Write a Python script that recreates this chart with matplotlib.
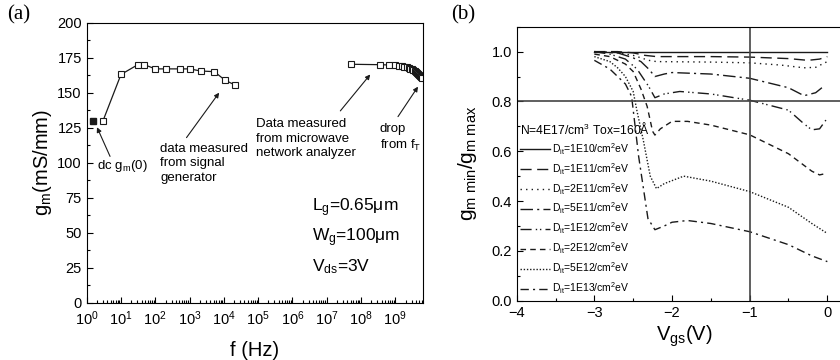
import numpy as np
import matplotlib.pyplot as plt
from matplotlib.ticker import LogLocator, MultipleLocator, NullFormatter

plt.rcParams['font.family'] = ['Liberation Sans', 'DejaVu Sans']
plt.rcParams['mathtext.fontset'] = 'custom'
plt.rcParams['mathtext.rm'] = 'Liberation Sans'
plt.rcParams['mathtext.it'] = 'Liberation Sans'
plt.rcParams['mathtext.default'] = 'regular'

# ---- panel (a) data: gm vs frequency
f_dc = [1.5]
gm_dc = [130]
f_sig = [3, 10, 31, 48, 100, 200, 520, 1000, 2100, 5300, 10700, 21000]
gm_sig = [130, 163, 170, 170, 167, 167, 167, 167, 165.5, 165, 159, 155.5]
f_vna_ghz = [0.05, 0.35, 0.65, 0.95, 1.25, 1.55, 1.85, 2.15, 2.45, 2.75, 3.05,
             3.35, 3.65, 3.95, 4.25, 4.55, 4.85, 5.15, 5.45, 5.75, 6.05]
gm_vna = [170.3, 170.0, 169.8, 169.5, 169.2, 168.9, 168.5, 168.1, 167.7, 167.2, 166.7,
          166.1, 165.5, 164.8, 164.1, 163.4, 162.8, 162.2, 161.6, 161.1, 160.6]

# ---- panel (b) data: gm_min/gm_max vs Vgs for several Dit
dit_labels = ['1E10', '1E11', '2E11', '5E11', '1E12', '2E12', '5E12', '1E13']
v1 = [-3.0, 0.0]
r1 = [1.0, 1.0]
v2 = [-3.0, -2.7, -2.5, -2.35, -2.2, -1.5, -1.0, -0.5, -0.25, -0.1, 0.0]
r2 = [1.0, 1.0, 0.995, 0.985, 0.98, 0.98, 0.978, 0.972, 0.965, 0.97, 0.98]
v3 = [-3.0, -2.7, -2.5, -2.3, -2.2, -1.5, -1.0, -0.6, -0.3, -0.15, 0.0]
r3 = [1.0, 0.995, 0.985, 0.965, 0.96, 0.958, 0.955, 0.946, 0.935, 0.937, 0.96]
v4 = [-3.0, -2.7, -2.5, -2.4, -2.3, -2.22, -2.1, -2.0, -1.5, -1.0, -0.5, -0.3, -0.15, -0.05]
r4 = [1.0, 0.995, 0.975, 0.96, 0.93, 0.9, 0.91, 0.916, 0.91, 0.893, 0.855, 0.823, 0.835, 0.86]
v5 = [-3.0, -2.8, -2.6, -2.45, -2.3, -2.22, -2.1, -1.9, -1.5, -1.0, -0.5, -0.3, -0.2, -0.1, 0.0]
r5 = [1.0, 0.99, 0.97, 0.93, 0.86, 0.815, 0.83, 0.84, 0.83, 0.805, 0.765, 0.71, 0.686, 0.69, 0.733]
v6 = [-3.0, -2.8, -2.6, -2.5, -2.4, -2.32, -2.25, -2.22, -2.15, -2.0, -1.8, -1.5, -1.0, -0.5, -0.2, -0.1, 0.0]
r6 = [0.99, 0.98, 0.95, 0.92, 0.85, 0.78, 0.68, 0.665, 0.69, 0.72, 0.72, 0.705, 0.666, 0.59, 0.52, 0.505, 0.512]
v7 = [-3.0, -2.8, -2.7, -2.6, -2.5, -2.45, -2.37, -2.28, -2.2, -2.1, -1.85, -1.5, -1.0, -0.5, -0.2, 0.0]
r7 = [0.98, 0.96, 0.935, 0.9, 0.84, 0.76, 0.645, 0.5, 0.45, 0.47, 0.5, 0.48, 0.438, 0.375, 0.31, 0.27]
v8 = [-3.0, -2.8, -2.7, -2.6, -2.52, -2.43, -2.31, -2.22, -2.1, -2.0, -1.8, -1.5, -1.0, -0.5, -0.2, 0.0]
r8 = [0.965, 0.93, 0.9, 0.87, 0.82, 0.58, 0.33, 0.285, 0.3, 0.315, 0.322, 0.31, 0.277, 0.225, 0.18, 0.157]

fig = plt.figure(figsize=(8.4, 3.6), dpi=100)
lc = '#1a1a1a'

# ================= panel (a)
ax1 = fig.add_axes([0.1032, 0.1592, 0.4, 0.7778])
f_vna = [f * 1e9 for f in f_vna_ghz]
ax1.plot(f_sig, gm_sig, '-s', color=lc, lw=0.9, ms=5, mfc='white', mec=lc, mew=0.8)
ax1.plot(f_vna, gm_vna, '-s', color=lc, lw=0.9, ms=5, mfc='white', mec=lc, mew=0.8)
ax1.plot(f_dc, gm_dc, 's', color=lc, ms=5, mfc=lc, mec=lc)
ax1.set_xscale('log')
ax1.set_xlim(1, 6.3e9)
ax1.set_ylim(0, 200)
ax1.xaxis.set_major_locator(LogLocator(base=10, numticks=20))
ax1.xaxis.set_minor_locator(LogLocator(base=10, subs=np.arange(2, 10), numticks=200))
ax1.xaxis.set_minor_formatter(NullFormatter())
ax1.yaxis.set_major_locator(MultipleLocator(25))
ax1.yaxis.set_minor_locator(MultipleLocator(12.5))
ax1.tick_params(which='both', direction='in', top=False, right=False, labelsize=10.5, width=0.8)
ax1.tick_params(which='major', length=4)
ax1.tick_params(which='minor', length=2)
ax1.tick_params(axis='x', pad=5)
ax1.set_xlabel('f (Hz)', fontsize=14.5, labelpad=9)
ax1.set_ylabel(r'g$_{m}$(mS/mm)', fontsize=14.5, labelpad=2)

ap = dict(arrowstyle='-|>', color=lc, lw=0.8, mutation_scale=7, shrinkA=0, shrinkB=0)
# arrows
ax1.annotate('', xy=(2.0, 125.3), xytext=(4.8, 104.5), arrowprops=ap)
ax1.annotate('', xy=(7300, 150), xytext=(815, 117.9), arrowprops=ap)
ax1.annotate('', xy=(1.86e8, 163), xytext=(2.5e7, 137), arrowprops=ap)
ax1.annotate('', xy=(4.6e9, 154.3), xytext=(1.2e9, 132.9), arrowprops=ap)
# texts
ax1.text(1.96, 97.6, r'dc g$_{m}$(0)', fontsize=9.5, ha='left', va='center')
ax1.text(138, 114, 'data measured\nfrom signal\ngenerator', fontsize=9.5,
         ha='left', va='top', linespacing=1.25)
ax1.text(8.9e4, 132, 'Data measured\nfrom microwave\nnetwork analyzer', fontsize=9.5,
         ha='left', va='top', linespacing=1.3)
ax1.text(3.5e8, 128.5, 'drop\nfrom f$_{T}$', fontsize=9.5, ha='left', va='top', linespacing=1.25)
ax1.text(0.672, 0.34, r'L$_{g}$=0.65μm', transform=ax1.transAxes, fontsize=12.5, va='center')
ax1.text(0.672, 0.232, r'W$_{g}$=100μm', transform=ax1.transAxes, fontsize=12.5, va='center')
ax1.text(0.672, 0.127, r'V$_{ds}$=3V', transform=ax1.transAxes, fontsize=12.5, va='center')
fig.text(0.008, 0.958, '(a)', family='Liberation Serif', fontsize=15, va='center')

# ================= panel (b)
ax2 = fig.add_axes([0.6151, 0.1647, 0.3994, 0.7611])
styles = ['-', (0, (8, 4)), (0, (1, 3)), (0, (9, 3, 1.5, 3)), (0, (8, 3, 1, 2, 1, 3)),
          (0, (4, 3)), (0, (1, 1.3)), (0, (6, 3, 1.5, 3))]
vs = [v1, v2, v3, v4, v5, v6, v7, v8]
rs = [r1, r2, r3, r4, r5, r6, r7, r8]
for v, r, ls, lab in zip(vs, rs, styles, dit_labels):
    ax2.plot(v, r, color=lc, lw=1.0, ls=ls, label=r'D$_{it}$=' + lab + r'/cm$^{2}$eV')
ax2.axhline(0.8, color='#444444', lw=1.2)
ax2.axvline(-1, color='#444444', lw=1.2)
ax2.set_xlim(-4, 0.32)
ax2.set_ylim(0, 1.1)
ax2.xaxis.set_major_locator(MultipleLocator(1))
ax2.xaxis.set_minor_locator(MultipleLocator(0.5))
ax2.yaxis.set_major_locator(MultipleLocator(0.2))
ax2.yaxis.set_minor_locator(MultipleLocator(0.1))
ax2.set_xticks([-4, -3, -2, -1, 0])
ax2.set_xticklabels(['\u22124', '\u22123', '\u22122', '\u22121', '0'])
ax2.set_yticks([0.0, 0.2, 0.4, 0.6, 0.8, 1.0])
ax2.set_yticklabels(['0.0', '0.2', '0.4', '0.6', '0.8', '1.0'])
ax2.tick_params(which='both', direction='in', top=False, right=False, labelsize=10.5, width=0.8)
ax2.tick_params(which='major', length=4)
ax2.tick_params(which='minor', length=2)
ax2.set_xlabel(r'V$_{gs}$(V)', fontsize=14.5, labelpad=3)
ax2.set_ylabel(r'g$_{m\ min}$/g$_{m\ max}$', fontsize=15, labelpad=9)
leg = ax2.legend(loc='upper left', bbox_to_anchor=(0.005, 0.665), frameon=False, fontsize=7.5,
                 title='N=4E17/cm$^{3}$ Tox=160Å', title_fontsize=8.7, alignment='left',
                 handlelength=2.8, handletextpad=0.2, labelspacing=0.42, borderpad=0.2,
                 borderaxespad=0)
fig.text(0.537, 0.958, '(b)', family='Liberation Serif', fontsize=15, va='center')

fig.savefig('out.png', dpi=100)
